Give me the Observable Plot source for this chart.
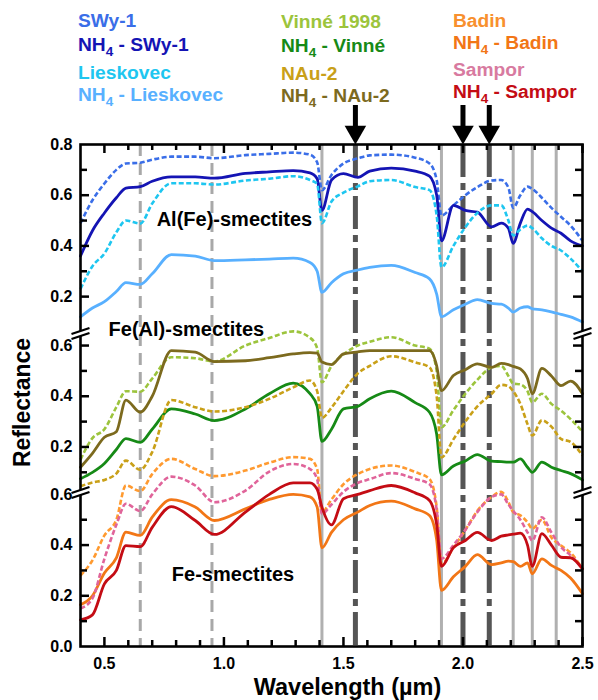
<!DOCTYPE html>
<html><head><meta charset="utf-8">
<script src="https://cdn.jsdelivr.net/npm/d3@7"></script>
<script src="https://cdn.jsdelivr.net/npm/@observablehq/plot@0.6"></script>
<style>
body{margin:0;background:#fff;}
#wrap{position:relative;width:598px;height:700px;font-family:Arial,"Liberation Sans",sans-serif;}
#wrap svg{position:absolute;left:0;top:0;overflow:visible;}
.leg{position:absolute;font-weight:bold;font-size:19.2px;white-space:nowrap;line-height:0.85;}
.leg sub{font-size:13.5px;vertical-align:-5px;line-height:0;}
</style></head><body><div id="wrap"></div>
<script>
// ---------- data ----------
const wavelength = [0.40,0.45,0.50,0.55,0.59,0.65,0.70,0.78,0.88,0.96,1.09,1.19,1.29,1.36,1.39,1.41,1.45,1.50,1.56,1.61,1.70,1.80,1.86,1.89,1.91,1.96,2.01,2.06,2.12,2.16,2.19,2.21,2.24,2.27,2.29,2.33,2.37,2.41,2.45,2.50];

const swy1 = [0.49,0.58,0.646,0.70,0.725,0.728,0.74,0.752,0.752,0.746,0.758,0.763,0.768,0.76,0.73,0.62,0.68,0.725,0.745,0.757,0.76,0.748,0.725,0.66,0.52,0.56,0.60,0.632,0.658,0.66,0.63,0.55,0.60,0.634,0.625,0.59,0.55,0.515,0.48,0.42];
const nh4Swy1 = [0.36,0.46,0.53,0.59,0.628,0.634,0.655,0.672,0.672,0.667,0.686,0.692,0.697,0.688,0.665,0.54,0.66,0.685,0.67,0.695,0.707,0.695,0.675,0.60,0.42,0.56,0.54,0.533,0.475,0.49,0.47,0.41,0.49,0.545,0.535,0.50,0.47,0.45,0.42,0.40];
const lieskovec = [0.23,0.32,0.37,0.454,0.50,0.488,0.567,0.647,0.647,0.642,0.658,0.665,0.675,0.66,0.645,0.49,0.575,0.61,0.635,0.655,0.66,0.632,0.62,0.52,0.316,0.40,0.474,0.53,0.56,0.56,0.50,0.441,0.465,0.48,0.47,0.43,0.40,0.382,0.35,0.30];
const nh4Lieskovec = [0.12,0.155,0.18,0.22,0.255,0.248,0.29,0.366,0.36,0.342,0.345,0.348,0.352,0.335,0.30,0.217,0.255,0.29,0.305,0.315,0.323,0.295,0.27,0.21,0.121,0.148,0.17,0.188,0.173,0.17,0.155,0.139,0.155,0.16,0.152,0.148,0.14,0.13,0.12,0.10];
const vinne = [0.15,0.235,0.27,0.357,0.42,0.418,0.47,0.554,0.55,0.537,0.60,0.63,0.656,0.631,0.59,0.455,0.52,0.565,0.60,0.615,0.633,0.60,0.588,0.50,0.278,0.345,0.41,0.465,0.514,0.52,0.48,0.45,0.447,0.42,0.376,0.41,0.37,0.343,0.31,0.26];
const nh4Vinne = [0.075,0.10,0.135,0.19,0.233,0.218,0.27,0.35,0.33,0.304,0.35,0.41,0.452,0.41,0.36,0.222,0.27,0.35,0.36,0.39,0.42,0.375,0.337,0.25,0.09,0.125,0.145,0.17,0.144,0.142,0.14,0.14,0.153,0.12,0.10,0.14,0.12,0.107,0.095,0.07];
const nau2 = [0.045,0.06,0.07,0.095,0.146,0.11,0.18,0.385,0.357,0.34,0.357,0.39,0.435,0.462,0.42,0.315,0.355,0.42,0.49,0.52,0.558,0.534,0.514,0.40,0.159,0.23,0.30,0.36,0.41,0.445,0.44,0.42,0.37,0.29,0.245,0.305,0.28,0.232,0.22,0.166];
const nh4Nau2 = [0.12,0.175,0.238,0.26,0.385,0.337,0.40,0.58,0.574,0.537,0.54,0.552,0.567,0.572,0.57,0.535,0.525,0.567,0.575,0.58,0.58,0.58,0.58,0.52,0.422,0.482,0.505,0.528,0.514,0.53,0.525,0.518,0.508,0.47,0.41,0.51,0.48,0.442,0.46,0.41];
const badin = [0.28,0.34,0.438,0.50,0.635,0.613,0.68,0.74,0.70,0.672,0.694,0.725,0.747,0.74,0.70,0.53,0.58,0.64,0.68,0.70,0.714,0.688,0.661,0.55,0.326,0.39,0.46,0.535,0.59,0.61,0.57,0.53,0.517,0.49,0.464,0.50,0.43,0.398,0.37,0.306];
const sampor = [0.15,0.19,0.346,0.48,0.563,0.534,0.60,0.67,0.635,0.569,0.615,0.69,0.72,0.70,0.66,0.523,0.56,0.61,0.645,0.66,0.684,0.661,0.64,0.54,0.346,0.40,0.46,0.53,0.59,0.60,0.56,0.535,0.50,0.45,0.418,0.51,0.45,0.392,0.36,0.306];
const nh4Badin = [0.165,0.20,0.29,0.35,0.451,0.438,0.51,0.579,0.55,0.497,0.543,0.58,0.60,0.59,0.55,0.389,0.45,0.50,0.53,0.556,0.573,0.543,0.517,0.42,0.221,0.275,0.316,0.362,0.323,0.33,0.337,0.335,0.316,0.33,0.287,0.346,0.32,0.30,0.27,0.208];
const nh4Sampor = [0.105,0.125,0.247,0.30,0.398,0.394,0.47,0.552,0.497,0.442,0.53,0.60,0.645,0.645,0.62,0.55,0.48,0.583,0.60,0.615,0.635,0.606,0.576,0.48,0.316,0.39,0.418,0.45,0.418,0.435,0.44,0.443,0.447,0.40,0.316,0.445,0.40,0.352,0.35,0.306];

// panels (broken y axis): offset added to each panel's reflectance
const panelOffset = {top: 0, middle: -0.593, bottom: -1.18};

const seriesNames = ["SWy-1","NH4 - SWy-1","Lieskovec","NH4 - Lieskovec","Vinné 1998","NH4 - Vinné","NAu-2","NH4 - NAu-2","Badin","NH4 - Badin","Sampor","NH4 - Sampor"];
const seriesValues = [swy1,nh4Swy1,lieskovec,nh4Lieskovec,vinne,nh4Vinne,nau2,nh4Nau2,badin,nh4Badin,sampor,nh4Sampor];
const seriesPanel = ["top","top","top","top","middle","middle","middle","middle","bottom","bottom","bottom","bottom"];
const seriesColor = ["#3a6ee8","#1414b4","#1ec6f0","#58b0ff","#9cc43c","#168a16","#c9a018","#7c6a1e","#ff9a30","#f27616","#e0649a","#c40c14"];
const seriesDashed = [true,false,true,false,true,false,true,false,true,false,true,false];
const legendTextColor = ["#3a6ee8","#1414b4","#1ec6f0","#58b0ff","#9cc43c","#168a16","#c9a018","#7c6a1e","#f8902e","#f27616","#d87aa0","#c40c14"];

// reference lines (µm)
const dashedBands = [0.65, 0.95];
const solidBands = [1.41, 1.91, 2.21, 2.29, 2.39];
const nh4Bands = [1.55, 2.00, 2.11];

// axis ticks
const xMajor = [0.5, 1.0, 1.5, 2.0, 2.5];
const xMinor = [0.6,0.7,0.8,0.9,1.1,1.2,1.3,1.4,1.6,1.7,1.8,1.9,2.1,2.2,2.3,2.4];
const yTicksTop = [0.2,0.3,0.4,0.5,0.6,0.7];
const yTicksMiddle = [0.1,0.2,0.3,0.4,0.5,0.6];
const yTicksBottom = [0.1,0.2,0.3,0.4,0.5];
const yLabelsTop = [0.2,0.4,0.6,0.8];
const yLabelsMiddle = [0.2,0.4,0.6];
const yLabelsBottom = [0.0,0.2,0.4,0.6];

const annotations = [
  {text: "Al(Fe)-smectites", w: 1.044, v: 0.502, panel: "top"},
  {text: "Fe(Al)-smectites", w: 0.843, v: 0.663, panel: "middle"},
  {text: "Fe-smectites", w: 1.038, v: 0.284, panel: "bottom"}
];

// ---------- layout ----------
const W = 598, H = 700, mL = 80, mR = 16, mT = 144, mB = 54;
const xDom = [0.4, 2.5], yDom = [-1.18, 0.8];
const kx = (xDom[1]-xDom[0])/(W-mL-mR);   // data units per px
const ky = (yDom[1]-yDom[0])/(H-mT-mB);
const pyToY = py => yDom[1] - (py - mT)*ky;

const rows = [];
seriesNames.forEach((name, s) => {
  seriesValues[s].forEach((v, i) => rows.push({name, w: wavelength[i], r: v + panelOffset[seriesPanel[s]]}));
});

const lineMarks = seriesNames.map((name, s) => Plot.line(rows.filter(d => d.name === name), {
  x: "w", y: "r", curve: "monotone-x",
  stroke: seriesColor[s], strokeWidth: seriesDashed[s] ? 2.6 : 2.8,
  strokeDasharray: seriesDashed[s] ? "5,2.5" : null,
  strokeLinecap: seriesDashed[s] ? "butt" : "round", strokeLinejoin: "round"
}));

const yTickRows = [
  ...yTicksTop.map(v => ({r: v + panelOffset.top, major: [0.2,0.4,0.6].includes(v)})),
  ...yTicksMiddle.map(v => ({r: v + panelOffset.middle, major: [0.2,0.4,0.6].includes(v)})),
  ...yTicksBottom.map(v => ({r: v + panelOffset.bottom, major: [0.2,0.4].includes(v)}))
];
const yLabelRows = [
  ...yLabelsTop.map(v => ({v, r: v + panelOffset.top})),
  ...yLabelsMiddle.map(v => ({v, r: v + panelOffset.middle})),
  ...yLabelsBottom.map(v => ({v, r: v + panelOffset.bottom}))
];
const tickLen = m => (m ? 9 : 7);

const breaks = [];
for (const bx of xDom) for (const by of [pyToY(333), pyToY(492)]) breaks.push({x: bx, y: by});

const font = "Arial, 'Liberation Sans', sans-serif";

const chart = Plot.plot({
  width: W, height: H, marginLeft: mL, marginRight: mR, marginTop: mT, marginBottom: mB,
  x: {domain: xDom, axis: null},
  y: {domain: yDom, axis: null},
  style: {fontFamily: font, fontWeight: "bold", fontSize: "16px", background: "transparent", overflow: "visible"},
  marks: [
    Plot.ruleX(dashedBands, {stroke: "#a8a8a8", strokeWidth: 3, strokeDasharray: "12,7"}),
    Plot.ruleX(solidBands, {stroke: "#b0b0b0", strokeWidth: 3}),
    Plot.ruleX(nh4Bands, {stroke: "#555555", strokeWidth: 5, strokeDasharray: "33,6,7,6"}),
    ...lineMarks,
    Plot.frame({stroke: "black", strokeWidth: 2.6}),
    // x ticks (inward), bottom and top
    Plot.ruleX(xMajor, {x: d => d, y1: yDom[0], y2: yDom[0] + 9*ky, stroke: "black", strokeWidth: 2.5}),
    Plot.ruleX(xMinor, {x: d => d, y1: yDom[0], y2: yDom[0] + 6*ky, stroke: "black", strokeWidth: 2.5}),
    Plot.ruleX(xMajor, {x: d => d, y1: yDom[1] - 9*ky, y2: yDom[1], stroke: "black", strokeWidth: 2.5}),
    Plot.ruleX(xMinor, {x: d => d, y1: yDom[1] - 6*ky, y2: yDom[1], stroke: "black", strokeWidth: 2.5}),
    // y ticks (inward), left and right
    Plot.ruleY(yTickRows, {y: "r", x1: xDom[0], x2: d => xDom[0] + tickLen(d.major)*kx, stroke: "black", strokeWidth: 2.5}),
    Plot.ruleY(yTickRows, {y: "r", x1: d => xDom[1] - tickLen(d.major)*kx, x2: xDom[1], stroke: "black", strokeWidth: 2.5}),
    // axis breaks
    Plot.link(breaks, {x1: d => d.x - 9*kx, x2: d => d.x + 9*kx, y1: d => d.y - 3*ky, y2: d => d.y + 3*ky, stroke: "white", strokeWidth: 5}),
    Plot.link(breaks, {x1: d => d.x - 9*kx, x2: d => d.x + 9*kx, y1: d => d.y - 5.5*ky, y2: d => d.y + 0.5*ky, stroke: "black", strokeWidth: 2.2}),
    Plot.link(breaks, {x1: d => d.x - 9*kx, x2: d => d.x + 9*kx, y1: d => d.y - 0.5*ky, y2: d => d.y + 5.5*ky, stroke: "black", strokeWidth: 2.2}),
    // tick labels
    Plot.text(yLabelRows, {y: "r", text: d => d.v.toFixed(1), frameAnchor: "left", textAnchor: "end", dx: -8, fontSize: 16, fontWeight: "bold", fill: "black"}),
    Plot.text(xMajor, {x: d => d, text: d => d.toFixed(1), frameAnchor: "bottom", lineAnchor: "top", dy: 11, fontSize: 16, fontWeight: "bold", fill: "black"}),
    // axis titles
    Plot.text(["Reflectance"], {text: d => d, frameAnchor: "left", textAnchor: "middle", lineAnchor: "middle", rotate: -90, dx: -58, dy: 7, fontSize: 23, fontWeight: "bold", fill: "black"}),
    Plot.text(["Wavelength (µm)"], {text: d => d, frameAnchor: "bottom", textAnchor: "middle", lineAnchor: "middle", dx: 16, dy: 40.5, fontSize: 23.5, fontWeight: "bold", fill: "black"}),
    // group annotations
    Plot.text(annotations, {x: "w", y: d => d.v + panelOffset[d.panel], text: "text", fontSize: 20, fontWeight: "bold", fill: "black"}),
    // NH4 band arrows
    Plot.ruleX(nh4Bands, {x: d => d, y1: pyToY(105), y2: pyToY(128), stroke: "black", strokeWidth: 5}),
    Plot.dot(nh4Bands, {x: d => d, y: pyToY(131.5), symbol: "triangle", r: 8, rotate: 180, fill: "black", stroke: "none"})
  ]
});

const wrap = document.getElementById("wrap");
wrap.appendChild(chart);

// legend (three columns)
const legendX = [78, 281, 453];
const legendBaselines = [[28, 52, 79.5, 101.5], [29, 53, 80.5, 102.5], [28, 50, 76.5, 98.5]];
seriesNames.forEach((name, s) => {
  const col = Math.floor(s / 4), row = s % 4;
  const div = document.createElement("div");
  div.className = "leg";
  div.style.left = legendX[col] + "px";
  div.style.top = (legendBaselines[col][row] - 15) + "px";
  div.style.color = legendTextColor[s];
  div.innerHTML = name.replace("NH4", "NH<sub>4</sub>");
  wrap.appendChild(div);
});
</script></body></html>
